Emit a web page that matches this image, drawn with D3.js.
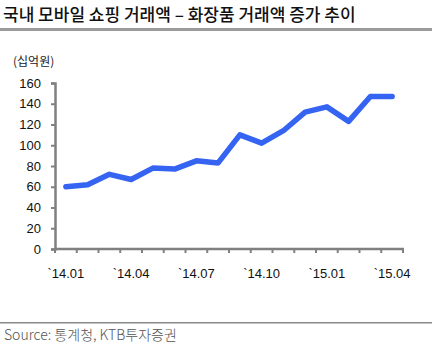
<!DOCTYPE html>
<html><head><meta charset="utf-8">
<script src="https://cdn.jsdelivr.net/npm/d3@7"></script>
<style>body{margin:0;background:#fff}svg{display:block}</style>
</head><body><svg id="c" width="432" height="361"></svg>
<script>
const months = ["14.01","14.02","14.03","14.04","14.05","14.06","14.07","14.08","14.09","14.10","14.11","14.12","15.01","15.02","15.03","15.04"];
const values = [60,62,72,67,78,77,85,83,110,102,114,132,137,123,147,147];
const yTicks = [0,20,40,60,80,100,120,140,160];
const xLabels = ["14.01","14.04","14.07","14.10","15.01","15.04"];
const title = "국내 모바일 쇼핑 거래액 – 화장품 거래액 증가 추이";
const unit = "(십억원)";
const source = "Source: 통계청, KTB투자증권";

const svg = d3.select("#c");
const font = "'Noto Sans CJK KR', 'Liberation Sans', sans-serif";
const x = d3.scaleBand().domain(months).range([55, 403]);
const y = d3.scaleLinear().domain([0,160]).range([249, 83]);

svg.append("text").attr("x",3).attr("y",21).text(title)
  .attr("font-family",font).attr("font-size",17).attr("font-weight",500).attr("fill","#111");
svg.append("rect").attr("x",0).attr("y",28).attr("width",432).attr("height",3).attr("fill","#9a9a9a");
svg.append("text").attr("x",13).attr("y",66).text(unit)
  .attr("font-family",font).attr("font-size",12).attr("fill","#222");

const axisColor = "#808080";
// y axis
const ya = svg.append("g").attr("transform","translate(55,0)")
  .call(d3.axisLeft(y).tickValues(yTicks).tickSize(4).tickPadding(10));
ya.select(".domain").attr("stroke",axisColor).attr("stroke-width",2.5);
ya.selectAll(".tick line").attr("stroke",axisColor).attr("stroke-width",2);
ya.selectAll("text").attr("font-family","'Liberation Sans', Arial, sans-serif").attr("font-size",13).attr("fill","#111");

// x axis
const xa = svg.append("g").attr("transform","translate(0,249)");
xa.append("line").attr("x1",54).attr("x2",404).attr("stroke",axisColor).attr("stroke-width",2.5);
const bounds = months.map(m => x(m)).concat([x(months[months.length-1]) + x.bandwidth()]);
xa.selectAll("line.t").data(bounds).join("line").attr("class","t")
  .attr("x1",d=>d).attr("x2",d=>d).attr("y1",0).attr("y2",4)
  .attr("stroke",axisColor).attr("stroke-width",2);
xa.selectAll("text").data(xLabels).join("text")
  .attr("x",d=>x(d)+x.bandwidth()/2).attr("y",29).attr("text-anchor","middle")
  .text(d=>"`"+d)
  .attr("font-family","'Liberation Sans', Arial, sans-serif").attr("font-size",13).attr("fill","#111");

// line
const line = d3.line().x((d,i)=>x(months[i])+x.bandwidth()/2).y(d=>y(d));
svg.append("path").datum(values).attr("d",line).attr("fill","none")
  .attr("stroke","#3563f2").attr("stroke-width",5.5).attr("stroke-linejoin","round").attr("stroke-linecap","round");

svg.append("rect").attr("x",0).attr("y",322).attr("width",432).attr("height",1.5).attr("fill","#8a8a8a");
svg.append("text").attr("x",4).attr("y",340).text(source)
  .attr("font-family",font).attr("font-size",14).attr("font-weight",300).attr("fill","#555");
</script></body></html>
